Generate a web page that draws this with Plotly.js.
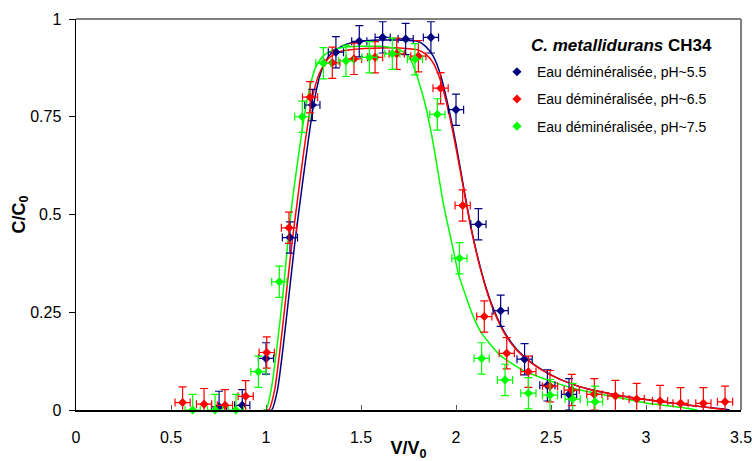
<!DOCTYPE html>
<html><head><meta charset="utf-8">
<script src="https://cdn.plot.ly/plotly-3.0.1.min.js"></script>
<style>html,body{margin:0;padding:0;background:#fff}#chart{width:752px;height:461px}</style>
</head><body><div id="chart"></div>
<script>
// Measured points
const x55 = [0.753, 0.875, 1.000, 1.126, 1.244, 1.368, 1.491, 1.614, 1.735, 1.868, 2.000, 2.118, 2.235, 2.361, 2.481, 2.595];
const y55 = [0.008, 0.012, 0.132, 0.441, 0.780, 0.915, 0.943, 0.953, 0.949, 0.953, 0.768, 0.475, 0.254, 0.130, 0.063, 0.040];
const x65 = [0.561, 0.674, 0.784, 0.893, 1.004, 1.121, 1.232, 1.349, 1.463, 1.574, 1.688, 1.802, 1.919, 2.035, 2.149, 2.267, 2.381, 2.495, 2.609, 2.728, 2.839, 2.951, 3.074, 3.182, 3.302, 3.416];
const y65 = [0.019, 0.015, 0.012, 0.035, 0.147, 0.466, 0.800, 0.888, 0.898, 0.902, 0.911, 0.905, 0.823, 0.523, 0.239, 0.145, 0.098, 0.061, 0.051, 0.040, 0.036, 0.028, 0.023, 0.017, 0.017, 0.021];
const x75 = [0.614, 0.732, 0.842, 0.960, 1.070, 1.191, 1.302, 1.421, 1.544, 1.665, 1.784, 1.902, 2.018, 2.135, 2.258, 2.381, 2.495, 2.614, 2.732];
const y75 = [0.000, 0.000, 0.000, 0.098, 0.328, 0.750, 0.887, 0.893, 0.902, 0.911, 0.897, 0.756, 0.388, 0.132, 0.077, 0.043, 0.038, 0.028, 0.021];
const errY = 0.04;
const errX = 0.04;

// Fitted model curves
const fitX55 = [1.00, 1.03, 1.06, 1.09, 1.12, 1.15, 1.18, 1.21, 1.25, 1.29, 1.33, 1.37, 1.42, 1.48, 1.60, 1.70, 1.80, 1.84, 1.88, 1.92, 1.96, 2.00, 2.04, 2.08, 2.12, 2.16, 2.20, 2.26, 2.32, 2.40, 2.50, 2.60, 2.70, 2.80, 2.90, 3.00, 3.10, 3.20, 3.30, 3.40, 3.44];
const fitY55 = [0, 0, 0.05, 0.16, 0.29, 0.42, 0.535, 0.645, 0.78, 0.865, 0.905, 0.922, 0.935, 0.942, 0.946, 0.946, 0.943, 0.93, 0.905, 0.855, 0.775, 0.68, 0.57, 0.465, 0.38, 0.31, 0.255, 0.195, 0.155, 0.12, 0.09, 0.068, 0.053, 0.043, 0.034, 0.027, 0.02, 0.014, 0.008, 0.003, 0];
const fitX65 = [0.99, 1.015, 1.045, 1.075, 1.105, 1.135, 1.165, 1.20, 1.24, 1.28, 1.33, 1.40, 1.50, 1.60, 1.70, 1.80, 1.84, 1.88, 1.92, 1.96, 2.00, 2.04, 2.08, 2.12, 2.16, 2.20, 2.26, 2.32, 2.40, 2.50, 2.60, 2.70, 2.80, 2.90, 3.00, 3.10, 3.20, 3.30, 3.40, 3.42];
const fitY65 = [0, 0, 0.05, 0.16, 0.29, 0.42, 0.535, 0.665, 0.79, 0.86, 0.9, 0.918, 0.924, 0.926, 0.926, 0.921, 0.91, 0.888, 0.84, 0.765, 0.67, 0.565, 0.462, 0.377, 0.307, 0.252, 0.192, 0.153, 0.119, 0.089, 0.068, 0.053, 0.043, 0.034, 0.027, 0.02, 0.014, 0.008, 0.002, 0];
const fitX75 = [0.98, 1.00, 1.03, 1.06, 1.09, 1.115, 1.14, 1.175, 1.215, 1.26, 1.30, 1.35, 1.40, 1.50, 1.60, 1.70, 1.75, 1.784, 1.81, 1.837, 1.88, 1.933, 1.986, 2.012, 2.056, 2.09, 2.13, 2.23, 2.35, 2.48, 2.62, 2.83, 3.00, 3.18, 3.27];
const fitY75 = [0, 0, 0.06, 0.17, 0.30, 0.43, 0.54, 0.665, 0.79, 0.875, 0.905, 0.92, 0.927, 0.93, 0.93, 0.922, 0.905, 0.87, 0.83, 0.784, 0.682, 0.529, 0.409, 0.35, 0.285, 0.24, 0.2, 0.141, 0.102, 0.077, 0.055, 0.034, 0.018, 0.007, 0];

const names = ['Eau déminéralisée, pH~5.5', 'Eau déminéralisée, pH~6.5', 'Eau déminéralisée, pH~7.5'];
const colors = ['#000080', '#FF0000', '#00FF00'];
const xTicks = [0, 0.5, 1, 1.5, 2, 2.5, 3, 3.5];
const xTickText = ['0', '0.5', '1', '1.5', '2', '2.5', '3', '3.5'];
const yTicks = [0, 0.25, 0.5, 0.75, 1];
const yTickText = ['0', '0.25', '0.5', '0.75', '1'];

const pts = [[x55, y55], [x65, y65], [x75, y75]];
const fits = [[fitX55, fitY55], [fitX65, fitY65], [fitX75, fitY75]];

const traces = [];
fits.forEach((f, i) => {
  traces.push({x: f[0], y: f[1], type: 'scatter', mode: 'lines', showlegend: false,
    line: {color: colors[i], width: 1.5, shape: 'spline', smoothing: 0.6}, hoverinfo: 'skip'});
});
pts.forEach((p, i) => {
  traces.push({x: p[0], y: p[1], type: 'scatter', mode: 'markers', name: names[i],
    legendgroup: 'g' + i, cliponaxis: false,
    marker: {symbol: 'diamond', size: 7, color: colors[i]},
    error_y: {type: 'constant', value: errY, color: colors[i], thickness: 1.2, width: 4},
    error_x: {type: 'constant', value: errX, color: colors[i], thickness: 1.2, width: 4}});
});

const font = 'Arial, "Liberation Sans", sans-serif';
const layout = {
  width: 752, height: 461,
  margin: {l: 76, r: 11, t: 19, b: 51},
  paper_bgcolor: '#fff', plot_bgcolor: '#fff',
  font: {family: font, size: 16, color: '#000'},
  showlegend: true,
  legend: {x: 0.633, y: 0.905, xanchor: 'left', yanchor: 'top', bgcolor: 'rgba(0,0,0,0)',
    font: {family: font, size: 14, color: '#000'}, tracegroupgap: 6, itemsizing: 'trace'},
  xaxis: {range: [0, 3.5], tickvals: xTicks, ticktext: xTickText, ticks: 'inside', ticklen: 5,
    tickcolor: '#555', showline: true, linecolor: '#000', linewidth: 1.5, showgrid: false, zeroline: false,
    tickfont: {size: 16}, ticklabelstandoff: 12, ticklabeloverflow: 'allow',
    title: {text: '<b>V/V<sub>0</sub></b>', font: {size: 18}, standoff: 5}},
  yaxis: {range: [0, 1], tickvals: yTicks, ticktext: yTickText, ticks: 'outside', ticklen: 6,
    tickcolor: '#000', showline: true, linecolor: '#000', linewidth: 1.5, showgrid: false, zeroline: false,
    tickfont: {size: 16}, ticklabelstandoff: 4, ticklabeloverflow: 'allow',
    title: {text: '<b>C/C<sub>0</sub></b>', font: {size: 18}, standoff: 0}},
  shapes: [
    {type: 'line', xref: 'paper', yref: 'paper', x0: 0, x1: 1, y0: 1, y1: 1, line: {color: '#808080', width: 2}},
    {type: 'line', xref: 'paper', yref: 'paper', x0: 1, x1: 1, y0: 0, y1: 1, line: {color: '#808080', width: 2}}
  ],
  annotations: [
    {xref: 'paper', yref: 'paper', x: 0.821, y: 0.933, xanchor: 'center', yanchor: 'middle', showarrow: false,
     text: '<b><i>C. metallidurans</i> CH34</b>', font: {family: font, size: 17, color: '#000'}}
  ]
};
Plotly.newPlot('chart', traces, layout, {displayModeBar: false, staticPlot: true});
</script></body></html>
